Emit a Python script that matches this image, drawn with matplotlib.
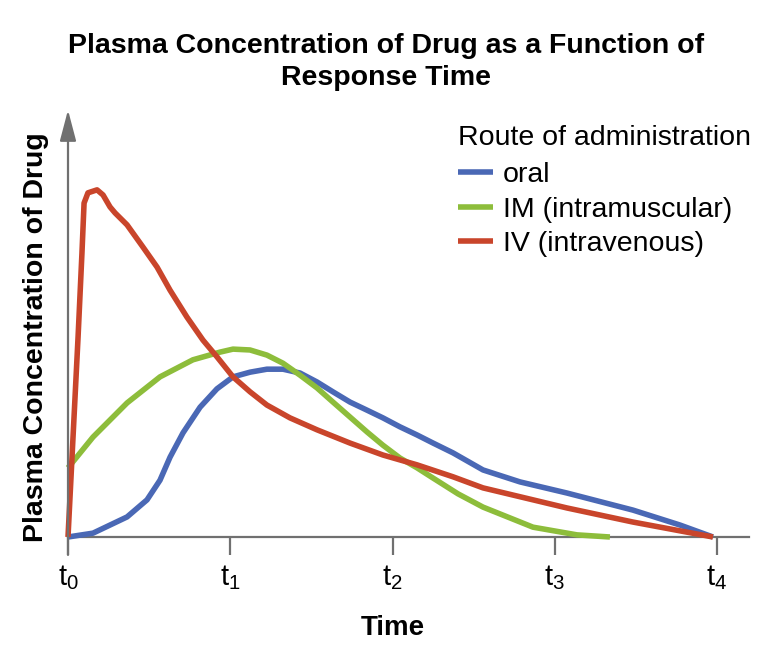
"""
Plasma concentration of drug vs. response time, by route of administration
"""
import matplotlib.pyplot as plt

# time points are in units of t (t0..t4), concentration in arbitrary units 0-100
oral_t = [0.0, 0.154, 0.364, 0.487, 0.567, 0.629, 0.709, 0.814, 0.918, 1.017, 1.122,
          1.226, 1.325, 1.43, 1.535, 1.633, 1.738, 1.843, 1.941, 2.046, 2.151, 2.25,
          2.373, 2.558, 2.786, 3.075, 3.482, 3.772, 3.975]
oral_c = [0.0, 0.9, 4.7, 8.7, 13.3, 18.7, 24.4, 30.4, 34.7, 37.5, 38.6,
          39.3, 39.3, 38.4, 36.3, 34.0, 31.6, 29.7, 27.9, 25.8, 23.9, 22.0,
          19.7, 15.7, 12.9, 10.3, 6.3, 2.8, 0.0]

im_t = [0.0, 0.154, 0.364, 0.567, 0.77, 0.937, 1.017, 1.122, 1.226, 1.325, 1.43,
        1.535, 1.633, 1.738, 1.843, 1.941, 2.046, 2.151, 2.25, 2.404, 2.558, 2.866,
        3.137, 3.34]
im_c = [16.2, 23.4, 31.4, 37.5, 41.5, 43.3, 44.0, 43.8, 42.6, 40.7, 37.9,
        34.9, 31.6, 28.1, 24.6, 21.5, 18.5, 16.2, 13.8, 10.1, 7.0, 2.3,
        0.5, 0.0]

iv_t = [0.0, 0.031, 0.062, 0.086, 0.099, 0.123, 0.179, 0.216, 0.259, 0.29, 0.364,
        0.462, 0.549, 0.629, 0.733, 0.832, 0.918, 1.017, 1.122, 1.226, 1.368, 1.535,
        1.738, 1.941, 2.151, 2.373, 2.558, 3.075, 3.482, 3.975]
iv_c = [0.0, 23.4, 46.8, 66.5, 78.2, 80.6, 81.3, 80.1, 77.3, 75.9, 73.1,
        67.9, 63.2, 57.8, 51.5, 46.1, 42.2, 37.5, 34.0, 30.9, 27.9, 25.1,
        22.0, 19.2, 16.9, 14.1, 11.5, 6.8, 3.5, 0.0]

tick_pos = [0, 1, 2, 3, 4]
tick_labels = [r"$\mathregular{t_%d}$" % i for i in tick_pos]

series = [
    ("oral", oral_t, oral_c, "#4a68b5"),
    ("IM (intramuscular)", im_t, im_c, "#8dbd3b"),
    ("IV (intravenous)", iv_t, iv_c, "#c9452b"),
]

plt.rcParams["font.family"] = ["Liberation Sans", "DejaVu Sans"]
plt.rcParams["mathtext.fontset"] = "custom"
plt.rcParams["mathtext.rm"] = "Liberation Sans"

W, H = 778, 652
fig = plt.figure(figsize=(W / 100, H / 100), dpi=100)

# axes placed so that t0 -> px 68, t4 -> px 717, baseline -> px 537, arrow tip -> px 110
px_per_t = 162.25
x0, y0 = 68, 537
ax = fig.add_axes([x0 / W, (H - y0) / H, 4.2 * px_per_t / W, (y0 - 110) / H])
ax.set_xlim(0, 4.2)
ax.set_ylim(0, 100)

for name, t, c, col in series:
    ax.plot(t, c, color=col, lw=4, label=name, solid_capstyle="butt",
            solid_joinstyle="round", clip_on=False, zorder=3)

axis_col = "#707070"
for s in ["top", "right", "left"]:
    ax.spines[s].set_visible(False)
ax.spines["bottom"].set_color(axis_col)
ax.spines["bottom"].set_linewidth(1.6)

# y axis with arrow head
ax.annotate("", xy=(0, 100), xytext=(0, -4.2), annotation_clip=False,
            arrowprops=dict(arrowstyle="-|>,head_length=1.9,head_width=0.5",
                            color=axis_col, lw=1.6, shrinkA=0, shrinkB=0))

ax.set_yticks([])
ax.set_xticks(tick_pos)
ax.set_xticklabels(tick_labels)
ax.tick_params(axis="x", direction="out", length=13, width=1.6, color=axis_col,
               labelsize=21, pad=6)

fig.text(393 / W, 1 - 628 / H, "Time", ha="center", va="center",
         fontsize=20, fontweight="bold")

fig.text(36 / W, 1 - 337 / H, "Plasma Concentration of Drug", rotation=90,
         ha="center", va="center", fontsize=20.5, fontweight="bold")

fig.text(386 / W, 1 - 62 / H,
         "Plasma Concentration of Drug as a Function of\nResponse Time",
         ha="center", va="center", fontsize=20.5, fontweight="bold", linespacing=1.32)

leg = ax.legend(loc="upper left", bbox_to_anchor=(458 / W, 1 - 125 / H),
                bbox_transform=fig.transFigure, frameon=False, fontsize=20.5,
                title="Route of administration", title_fontsize=20.5,
                alignment="left", handlelength=1.23, handletextpad=0.35,
                labelspacing=0.3, borderpad=0, borderaxespad=0)
leg._legend_box.sep = 8
for line in leg.get_lines():
    line.set_linewidth(4)

plt.savefig("out.png", dpi=100)
plt.close()
